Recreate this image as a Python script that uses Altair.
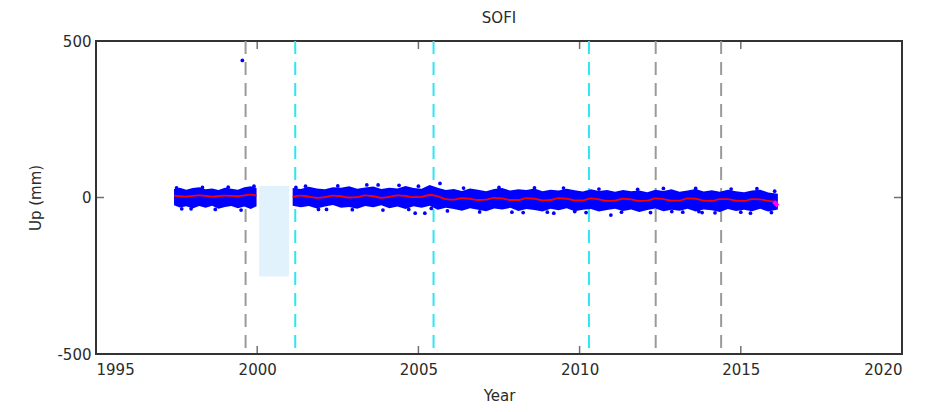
import altair as alt
import pandas as pd

# ---------------- data ----------------
# Band of daily Up positions (upper / lower envelope of the blue dots), mm
seg_a_years = [1997.42, 1997.6, 1997.8, 1998.0, 1998.2, 1998.4, 1998.6, 1998.8,
               1999.0, 1999.2, 1999.4, 1999.6, 1999.8, 1999.98]
seg_a_fit = [6, 4, 3, 5, 7, 5, 3, 4, 6, 5, 4, 7, 9, 6]
seg_a_upper = [27, 31, 25, 30, 33, 26, 29, 24, 31, 28, 25, 33, 36, 30]
seg_a_lower = [-25, -32, -28, -35, -27, -33, -26, -36, -30, -27, -34, -29, -37, -28]

seg_b_years = [2001.1, 2001.35, 2001.6, 2001.85, 2002.1, 2002.35, 2002.6, 2002.85,
               2003.1, 2003.35, 2003.6, 2003.85, 2004.1, 2004.35, 2004.6, 2004.85,
               2005.1, 2005.35, 2005.6, 2005.85, 2006.1, 2006.35, 2006.6, 2006.85,
               2007.1, 2007.35, 2007.6, 2007.85, 2008.1, 2008.35, 2008.6, 2008.85,
               2009.1, 2009.35, 2009.6, 2009.85, 2010.1, 2010.35, 2010.6, 2010.85,
               2011.1, 2011.35, 2011.6, 2011.85, 2012.1, 2012.35, 2012.6, 2012.85,
               2013.1, 2013.35, 2013.6, 2013.85, 2014.1, 2014.35, 2014.6, 2014.85,
               2015.1, 2015.35, 2015.6, 2015.85, 2016.15]
seg_b_fit = [2, 6, 3, -1, 1, 6, 4, 0, 1, 7, 4, -1, 2, 7, 5, 1,
             2, 8, 4, -5, -7, -2, -4, -8, -7, -1, -3, -8, -8, -2, -4, -9,
             -8, -2, -4, -9, -9, -3, -6, -11, -10, -4, -6, -11, -10, -3, -5, -10,
             -10, -3, -4, -10, -11, -5, -5, -10, -11, -5, -6, -11, -14]
seg_b_upper = [30, 27, 34, 29, 26, 33, 31, 36, 28, 32, 35, 27, 31, 29, 37, 30,
               28, 40, 31, 24, 27, 21, 29, 25, 20, 27, 30, 22, 26, 24, 29, 20,
               25, 22, 28, 23, 19, 26, 21, 24, 18, 24, 20, 22, 17, 25, 21, 26,
               18, 22, 27, 19, 23, 18, 25, 20, 17, 22, 25, 16, 12]
seg_b_lower = [-26, -31, -27, -35, -29, -24, -33, -30, -36, -27, -31, -25, -34, -29, -37, -28,
               -33, -26, -39, -33, -37, -42, -34, -39, -44, -35, -38, -33, -43, -37, -40, -45,
               -36, -41, -34, -44, -39, -37, -45, -40, -36, -43, -38, -46, -40, -35, -44, -39,
               -42, -36, -45, -38, -41, -46, -37, -43, -39, -44, -36, -45, -38]

# isolated blue points (outliers and the ragged edge of the cloud)
dot_years = [1999.54, 2001.2, 2002.15, 2003.75, 2004.9, 2005.2, 2005.67, 2008.25,
             2009.2, 2009.85, 2010.97, 2012.86, 2013.7, 2013.8, 2015.3, 1997.66,
             1997.5, 1997.95, 1998.3, 1998.7, 1999.1, 1999.5, 1999.9,
             2001.5, 2001.9, 2002.5, 2002.95, 2003.4, 2003.9, 2004.4, 2004.7,
             2005.0, 2005.4, 2005.9, 2006.4, 2006.9, 2007.5, 2007.9, 2008.6,
             2009.0, 2009.5, 2010.2, 2010.6, 2011.3, 2011.8, 2012.2, 2012.6,
             2013.2, 2013.6, 2014.2, 2014.7, 2015.0, 2015.5, 2015.95, 2016.05]
dot_values = [438, 32, -38, 40, -50, -50, 45, -48,
              -50, -45, -56, -45, -45, -48, -50, -36,
              31, -36, 32, -38, 33, -40, 36,
              36, -38, 37, -39, 40, -40, 39, -38,
              36, -35, -43, 30, -46, 32, -47, 31,
              -47, 30, -48, 27, -47, 26, -48, 29,
              -47, 29, -49, 27, -47, 28, -48, 20]

# end of the model (magenta)
end_years = [2016.02, 2016.15]
end_values = [-13, -27]

# event lines
gray_events = [1999.64, 2012.36, 2014.39]
cyan_events = [2001.18, 2005.47, 2010.29]

# data gap shading
gap_start, gap_end = 2000.06, 2000.99
gap_top, gap_bottom = 37, -252

x_ticks = [1995, 2000, 2005, 2010, 2015, 2020]
inner_x_ticks = [2000, 2005, 2010, 2015]
y_ticks = [-500, 0, 500]

# ---------------- tables ----------------
band = pd.concat([
    pd.DataFrame({"year": seg_a_years, "upper": seg_a_upper, "lower": seg_a_lower,
                  "fit": seg_a_fit, "seg": "a"}),
    pd.DataFrame({"year": seg_b_years, "upper": seg_b_upper, "lower": seg_b_lower,
                  "fit": seg_b_fit, "seg": "b"}),
], ignore_index=True)
dots = pd.DataFrame({"year": dot_years, "up": dot_values})
ends = pd.DataFrame({"year": end_years, "up": end_values})
gray_df = pd.DataFrame({"year": gray_events})
cyan_df = pd.DataFrame({"year": cyan_events})
gap_df = pd.DataFrame({"x1": [gap_start], "x2": [gap_end], "y1": [gap_top], "y2": [gap_bottom]})
xt_df = pd.DataFrame({"year": inner_x_ticks})
yt_df = pd.DataFrame({"up": [0]})

W, H = 806, 313
FONT = "DejaVu Sans"
TXT = "#2b2b2b"

xscale = alt.Scale(domain=[1995, 2020], nice=False, zero=False)
yscale = alt.Scale(domain=[-500, 500], nice=False, zero=False)

xaxis = alt.Axis(values=x_ticks, format="d", grid=False, domain=False, ticks=False,
                 tickSize=0, labelPadding=8, labelFontSize=15, labelFont=FONT,
                 labelColor=TXT, title="Year", titleFont=FONT, titleFontSize=15,
                 titleFontWeight="normal", titleColor=TXT, titlePadding=11)
yaxis = alt.Axis(values=y_ticks, labelExpr="datum.value + ''", grid=False, domain=False,
                 ticks=False, tickSize=0, labelPadding=5, labelFontSize=15, labelFont=FONT,
                 labelColor=TXT, title="Up (mm)", titleFont=FONT, titleFontSize=15,
                 titleFontWeight="normal", titleColor=TXT, titlePadding=13)

base_x = alt.X("year:Q", scale=xscale, axis=xaxis)

gap = alt.Chart(gap_df).mark_rect(color="#e2f2fc").encode(
    x=alt.X("x1:Q", scale=xscale, axis=xaxis), x2="x2:Q",
    y=alt.Y("y1:Q", scale=yscale, axis=yaxis), y2="y2:Q")

band_area = alt.Chart(band).mark_area(color="#0000ff", opacity=1, interpolate="linear").encode(
    x=base_x, y=alt.Y("upper:Q", scale=yscale, axis=yaxis), y2="lower:Q", detail="seg:N")

dots_layer = alt.Chart(dots).mark_circle(color="#0000ff", size=14, opacity=1).encode(
    x=base_x, y=alt.Y("up:Q", scale=yscale, axis=yaxis))

fit_line = alt.Chart(band).mark_line(color="#ff0000", strokeWidth=1.8, interpolate="monotone").encode(
    x=base_x, y=alt.Y("fit:Q", scale=yscale, axis=yaxis), detail="seg:N")

end_line = alt.Chart(ends).mark_line(color="#ff00ff", strokeWidth=4).encode(
    x=base_x, y=alt.Y("up:Q", scale=yscale, axis=yaxis))

gray_rules = alt.Chart(gray_df).mark_rule(color="#9a9a9a", strokeWidth=2, strokeDash=[13, 8]).encode(
    x=base_x)
cyan_rules = alt.Chart(cyan_df).mark_rule(color="#2ee6f2", strokeWidth=2, strokeDash=[13, 8]).encode(
    x=base_x)

tick_bottom = alt.Chart(xt_df).mark_tick(orient="vertical", color="#333333", size=8, thickness=1.5).encode(
    x=base_x, y=alt.value(H - 4))
tick_top = alt.Chart(xt_df).mark_tick(orient="vertical", color="#333333", size=8, thickness=1.5).encode(
    x=base_x, y=alt.value(4))
tick_left = alt.Chart(yt_df).mark_tick(orient="horizontal", color="#333333", size=8, thickness=1.5).encode(
    y=alt.Y("up:Q", scale=yscale, axis=yaxis), x=alt.value(4))
tick_right = alt.Chart(yt_df).mark_tick(orient="horizontal", color="#333333", size=8, thickness=1.5).encode(
    y=alt.Y("up:Q", scale=yscale, axis=yaxis), x=alt.value(W - 4))

chart = alt.layer(
    gap, gray_rules, cyan_rules, band_area, dots_layer, fit_line, end_line,
    tick_bottom, tick_top, tick_left, tick_right,
).properties(
    width=W, height=H,
    title=alt.TitleParams("SOFI", font=FONT, fontSize=15, fontWeight="normal",
                          color=TXT, offset=8, anchor="middle"),
    autosize=alt.AutoSizeParams(type="none"),
    padding={"left": 88, "top": 33, "right": 25, "bottom": 50},
).configure(
    background="white"
).configure_view(
    stroke="#333333", strokeWidth=2
)

chart.save("out.html", embed_options={"renderer": "svg", "actions": False})
